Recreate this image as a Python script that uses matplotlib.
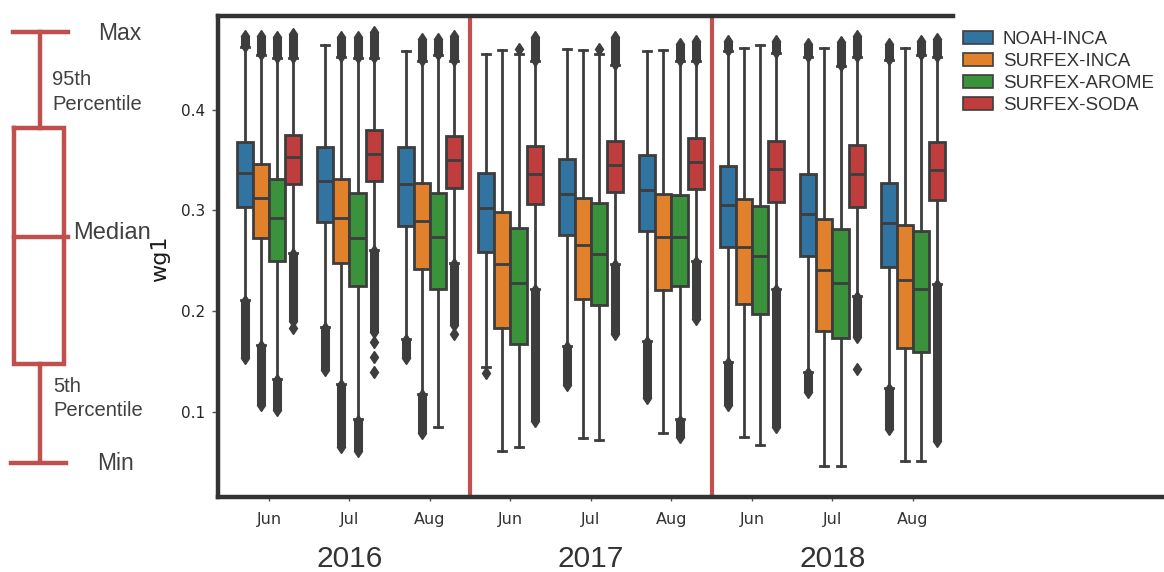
import matplotlib
matplotlib.use('Agg')
import matplotlib.pyplot as plt
from matplotlib.patches import Patch

# --- データ ---
months = ['Jun', 'Jul', 'Aug', 'Jun', 'Jul', 'Aug', 'Jun', 'Jul', 'Aug']
years = ['2016', '2017', '2018']
models = ['NOAH-INCA', 'SURFEX-INCA', 'SURFEX-AROME', 'SURFEX-SODA']
colors = ['#3274a1', '#e1812c', '#3a923a', '#c03d3e']

# NOAH-INCA
noah_q1 = [0.303, 0.289, 0.285, 0.259, 0.276, 0.280, 0.264, 0.255, 0.244]
noah_med = [0.337, 0.329, 0.326, 0.302, 0.316, 0.320, 0.305, 0.297, 0.288]
noah_q3 = [0.368, 0.363, 0.363, 0.337, 0.351, 0.355, 0.344, 0.336, 0.327]
noah_lo = [0.211, 0.185, 0.173, 0.145, 0.166, 0.171, 0.150, 0.140, 0.124]
noah_hi = [0.462, 0.464, 0.458, 0.455, 0.460, 0.458, 0.458, 0.452, 0.449]
noah_fl_lo = [(0.154, 0.210), (0.142, 0.184), (0.154, 0.172), None, (0.127, 0.165),
              (0.114, 0.170), (0.107, 0.149), (0.120, 0.139), (0.084, 0.123)]
noah_fl_hi = [(0.463, 0.473), None, None, None, None, None,
              (0.459, 0.468), (0.453, 0.465), (0.450, 0.465)]
noah_single = [[], [], [], [0.139], [], [], [], [], []]

# SURFEX-INCA
sinca_q1 = [0.273, 0.248, 0.242, 0.184, 0.212, 0.221, 0.207, 0.181, 0.164]
sinca_med = [0.312, 0.293, 0.290, 0.247, 0.266, 0.274, 0.264, 0.241, 0.231]
sinca_q3 = [0.346, 0.331, 0.327, 0.298, 0.312, 0.316, 0.311, 0.292, 0.286]
sinca_lo = [0.167, 0.128, 0.118, 0.062, 0.075, 0.080, 0.076, 0.047, 0.052]
sinca_hi = [0.454, 0.452, 0.448, 0.459, 0.459, 0.459, 0.461, 0.461, 0.461]
sinca_fl_lo = [(0.107, 0.166), (0.066, 0.127), (0.080, 0.117), None, None, None, None, None, None]
sinca_fl_hi = [(0.455, 0.473), (0.453, 0.472), (0.449, 0.470), None, None, None, None, None, None]
sinca_single = [[], [], [], [], [], [], [], [], []]

# SURFEX-AROME
arome_q1 = [0.250, 0.225, 0.222, 0.168, 0.206, 0.225, 0.197, 0.174, 0.160]
arome_med = [0.293, 0.273, 0.274, 0.228, 0.257, 0.274, 0.255, 0.228, 0.222]
arome_q3 = [0.331, 0.317, 0.317, 0.283, 0.307, 0.315, 0.304, 0.282, 0.280]
arome_lo = [0.133, 0.093, 0.086, 0.066, 0.073, 0.093, 0.068, 0.047, 0.052]
arome_hi = [0.451, 0.451, 0.454, 0.455, 0.455, 0.448, 0.464, 0.443, 0.454]
arome_fl_lo = [(0.102, 0.132), (0.062, 0.092), None, None, None, (0.076, 0.092), None, None, None]
arome_fl_hi = [(0.452, 0.472), (0.452, 0.472), (0.455, 0.470), None, None,
               (0.449, 0.465), None, (0.444, 0.467), (0.455, 0.468)]
arome_single = [[], [], [], [0.460], [0.460], [], [], [], []]

# SURFEX-SODA
soda_q1 = [0.326, 0.329, 0.322, 0.306, 0.318, 0.321, 0.308, 0.303, 0.310]
soda_med = [0.353, 0.356, 0.350, 0.336, 0.345, 0.348, 0.341, 0.336, 0.340]
soda_q3 = [0.375, 0.380, 0.374, 0.364, 0.369, 0.372, 0.369, 0.365, 0.368]
soda_lo = [0.258, 0.261, 0.248, 0.222, 0.247, 0.250, 0.222, 0.215, 0.227]
soda_hi = [0.451, 0.451, 0.448, 0.448, 0.444, 0.448, 0.456, 0.452, 0.452]
soda_fl_lo = [(0.191, 0.257), (0.180, 0.260), (0.187, 0.247), (0.092, 0.221), (0.178, 0.246),
              (0.193, 0.249), (0.086, 0.221), (0.175, 0.214), (0.072, 0.226)]
soda_fl_hi = [(0.452, 0.475), (0.452, 0.477), (0.449, 0.473), (0.449, 0.472), (0.445, 0.472),
              (0.449, 0.468), (0.457, 0.468), (0.453, 0.473), (0.453, 0.470)]
soda_single = [[0.184], [0.170, 0.155, 0.140], [0.178], [], [], [], [], [0.143], []]

series = [
    (noah_q1, noah_med, noah_q3, noah_lo, noah_hi, noah_fl_lo, noah_fl_hi, noah_single),
    (sinca_q1, sinca_med, sinca_q3, sinca_lo, sinca_hi, sinca_fl_lo, sinca_fl_hi, sinca_single),
    (arome_q1, arome_med, arome_q3, arome_lo, arome_hi, arome_fl_lo, arome_fl_hi, arome_single),
    (soda_q1, soda_med, soda_q3, soda_lo, soda_hi, soda_fl_lo, soda_fl_hi, soda_single),
]

edge = '#3d3d3d'
divider = '#c44f4f'
txt_col = '#404040'
offsets = [-0.3, -0.1, 0.1, 0.3]

plt.rcParams['font.family'] = 'DejaVu Sans'

fig = plt.figure(figsize=(11.64, 5.72), dpi=100)
ax = fig.add_axes([218 / 1164, 75 / 572, 1 - 218 / 1164, 481 / 572])

# --- 箱ひげ図 ---
for (q1, med, q3, lo, hi, fl_lo, fl_hi, single), col, off in zip(series, colors, offsets):
    stats = []
    for k in range(len(months)):
        stats.append({'q1': q1[k], 'med': med[k], 'q3': q3[k],
                      'whislo': lo[k], 'whishi': hi[k], 'fliers': []})
    pos = [k + off for k in range(len(months))]
    ax.bxp(stats, positions=pos, widths=0.2, capwidths=0.1, patch_artist=True,
           showfliers=False, manage_ticks=False,
           boxprops=dict(facecolor=col, edgecolor=edge, linewidth=2),
           whiskerprops=dict(color=edge, linewidth=2),
           capprops=dict(color=edge, linewidth=2),
           medianprops=dict(color=edge, linewidth=2))
    # 外れ値 (密集した部分は柱として描く)
    for k in range(len(months)):
        for rng in (fl_lo[k], fl_hi[k]):
            if rng is None:
                continue
            ax.plot([pos[k], pos[k]], [rng[0], rng[1]], color=edge, lw=6.5,
                    solid_capstyle='butt', marker='d', markersize=6.5,
                    markerfacecolor=edge, markeredgecolor=edge, zorder=2.2)
        if single[k]:
            ax.plot([pos[k]] * len(single[k]), single[k], linestyle='none', marker='d',
                    markersize=6.5, color=edge, zorder=2.2)

# 年の区切り線
ax.axvline(2.5, color=divider, lw=3, zorder=2)
ax.axvline(5.5, color=divider, lw=3, zorder=2)

ax.set_xlim(-0.6335, 11.118)
ax.set_ylim(0.01624, 0.4926)
ax.set_yticks([0.1, 0.2, 0.3, 0.4])
ax.set_yticklabels(['0.1', '0.2', '0.3', '0.4'])
ax.set_xticks(range(len(months)))
ax.set_xticklabels(months)
ax.tick_params(axis='y', labelsize=11, length=4, width=1, color='#555555',
               labelcolor='#262626', pad=5.5)
ax.tick_params(axis='x', labelsize=11.5, length=3, width=1, color='#555555',
               labelcolor='#333333', pad=8)

for s in ['left', 'top', 'bottom']:
    ax.spines[s].set_linewidth(3.2)
    ax.spines[s].set_color('#333333')
ax.spines['right'].set_visible(False)
ax.spines['top'].set_bounds(-0.6335, 8.5)

ax.set_ylabel('wg1', fontsize=16, color='#1a1a1a')
ax.yaxis.set_label_coords(-0.0507, 0.495)

for j, yr in enumerate(years):
    ax.text(3 * j + 1, -0.128, yr, transform=ax.get_xaxis_transform(), ha='center',
            va='center', fontsize=21.5, color='#333333', family='Liberation Sans')

# 凡例
handles = [Patch(facecolor=c, edgecolor=edge, linewidth=1.2) for c in colors]
fig.legend(handles, models, loc='upper left', bbox_to_anchor=(962.7 / 1164, 1 - 31 / 572),
           frameon=False, borderpad=0, borderaxespad=0, handlelength=1.6, handleheight=0.64,
           handletextpad=0.53, labelspacing=0.27,
           prop={'family': 'Liberation Sans', 'size': 13.5}, labelcolor='#333333')

# --- 左側の箱ひげ図の説明 ---
key = fig.add_axes([0, 0, 1, 1], zorder=-1)
key.set_xlim(0, 1164)
key.set_ylim(572, 0)
key.axis('off')
kc = '#c0504d'
klw = 3.2
key.plot([13, 68], [32, 32], color=kc, lw=klw)
key.plot([39.5, 39.5], [32, 128], color=kc, lw=klw)
key.plot([13.5, 64, 64, 13.5, 13.5], [128, 128, 364, 364, 128], color=kc, lw=klw,
         solid_joinstyle='miter')
key.plot([13.5, 68], [236.5, 236.5], color=kc, lw=klw)
key.plot([40, 40], [364, 461], color=kc, lw=klw)
key.plot([11, 66], [463, 463], color=kc, lw=klw)

kfont = 'Liberation Sans'
key.text(98, 34, 'Max', fontsize=16.5, color=txt_col, family=kfont, va='center')
key.text(52, 79.5, '95th', fontsize=14.5, color=txt_col, family=kfont, va='center')
key.text(52, 104, 'Percentile', fontsize=14.5, color=txt_col, family=kfont, va='center')
key.text(73, 233, 'Median', fontsize=17, color=txt_col, family=kfont, va='center')
key.text(53, 386, '5th', fontsize=14.5, color=txt_col, family=kfont, va='center')
key.text(53, 410.5, 'Percentile', fontsize=14.5, color=txt_col, family=kfont, va='center')
key.text(97, 463, 'Min', fontsize=16.5, color=txt_col, family=kfont, va='center')

fig.savefig('out.png', dpi=100, facecolor='white')
